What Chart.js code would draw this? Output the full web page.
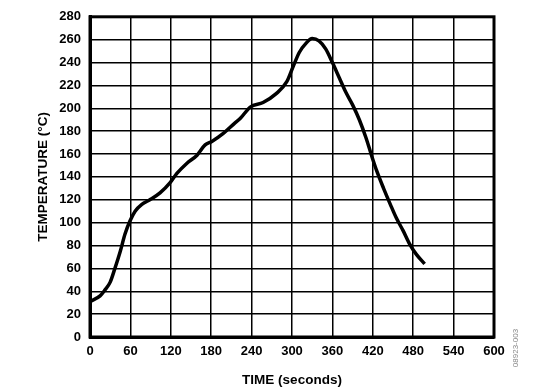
<!DOCTYPE html>
<html>
<head>
<meta charset="utf-8">
<script src="https://cdn.jsdelivr.net/npm/chart.js@4"></script>
<style>
  html, body { margin: 0; padding: 0; background: #fff; }
  #wrap { width: 540px; height: 388px; position: relative; }
</style>
</head>
<body>
<div id="wrap"><canvas id="reflowChart"></canvas></div>
<script>
// reflow profile
const timeSeconds = [0, 15, 22, 30, 37, 45, 52, 59, 67, 77, 89, 104, 119, 129, 144, 159, 171, 181, 198, 215,
  223, 238, 257, 277, 292, 302, 311, 321, 330, 340, 350, 360, 370, 380, 390, 400, 410, 418, 426, 436,
  446, 455, 465, 475, 485, 497];
const temperatureC = [31, 36, 41, 48, 60, 75, 90, 101, 110, 116, 120, 126, 135, 143, 152, 159, 168, 171, 178, 187,
  191, 201, 205, 213, 223, 237, 249, 257, 261, 259, 252, 240, 227, 214, 203, 190, 174, 159, 145, 130,
  116, 104, 93, 81, 72, 64];

const xTicks = [0, 60, 120, 180, 240, 300, 360, 420, 480, 540, 600];
const yTicks = [0, 20, 40, 60, 80, 100, 120, 140, 160, 180, 200, 220, 240, 260, 280];

const points = timeSeconds.map((t, i) => ({ x: t, y: temperatureC[i] }));

const figureId = {
  id: "figureId",
  afterDraw(chart) {
    const ctx = chart.ctx;
    ctx.save();
    ctx.translate(516, 348);
    ctx.rotate(-Math.PI / 2);
    ctx.font = "8px Arial";
    ctx.fillStyle = "#888";
    ctx.textAlign = "center";
    ctx.textBaseline = "middle";
    ctx.fillText("08923-003", 0, 0);
    ctx.restore();
  },
};

const tickFont = { family: "Arial, 'Liberation Sans'", size: 13, weight: "bold" };
const titleFont = { family: "Arial, 'Liberation Sans'", size: 13.5, weight: "bold" };

new Chart(document.getElementById("reflowChart").getContext("2d"), {
  type: "line",
  data: {
    datasets: [
      {
        data: points,
        borderColor: "#000",
        borderWidth: 3.5,
        pointRadius: 0,
        cubicInterpolationMode: "monotone",
        fill: false,
      },
    ],
  },
  options: {
    responsive: true,
    maintainAspectRatio: false,
    animation: false,
    layout: { padding: { top: 14, right: 46, left: 0, bottom: 0 } },
    plugins: { legend: { display: false }, tooltip: { enabled: false } },
    scales: {
      x: {
        type: "linear",
        min: 0,
        max: 600,
        afterBuildTicks: (scale) => {
          scale.ticks = xTicks.map((v) => ({ value: v }));
        },
        afterFit: (scale) => {
          scale.height = 51;
        },
        grid: { color: "#000", lineWidth: 1.5, drawTicks: false },
        border: { color: "#000", width: 3 },
        ticks: { color: "#000", font: tickFont, padding: 7, maxRotation: 0 },
        title: {
          display: true,
          text: "TIME (seconds)",
          color: "#000",
          font: titleFont,
          padding: { top: 9, bottom: 0 },
        },
      },
      y: {
        min: 0,
        max: 280,
        afterBuildTicks: (scale) => {
          scale.ticks = yTicks.map((v) => ({ value: v }));
        },
        afterFit: (scale) => {
          scale.width = 90;
        },
        grid: { color: "#000", lineWidth: 1.5, drawTicks: false },
        border: { color: "#000", width: 3 },
        ticks: { color: "#000", font: tickFont, padding: 9 },
        title: {
          display: true,
          text: "TEMPERATURE (°C)",
          color: "#000",
          font: titleFont,
          padding: { top: 35, bottom: 0 },
        },
      },
    },
  },
  plugins: [
    figureId,
    {
      id: "frame",
      afterDraw(chart) {
        const { ctx, chartArea: a } = chart;
        ctx.save();
        ctx.strokeStyle = "#000";
        ctx.lineWidth = 3;
        ctx.strokeRect(a.left, a.top, a.right - a.left, a.bottom - a.top);
        ctx.restore();
      },
    },
  ],
});
</script>
</body>
</html>
